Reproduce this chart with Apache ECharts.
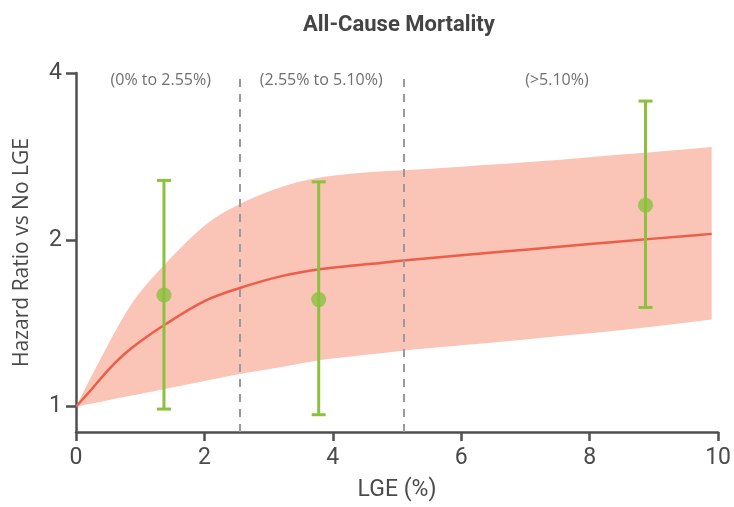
<!DOCTYPE html>
<html>
<head>
<meta charset="utf-8">
<script src="https://cdn.jsdelivr.net/npm/echarts@6/dist/echarts.min.js"></script>
<style>html,body{margin:0;padding:0;background:#fff}#c{width:734px;height:507px}</style>
</head>
<body>
<div id="c"></div>
<script>
// ---- data ----
const curveX   = [0, 0.25, 0.5, 0.75, 1.0, 1.4, 2.0, 2.55, 3.2, 3.8, 4.6, 5.1, 6.0, 7.0, 8.0, 9.0, 9.9];
const curveHR  = [1.0, 1.077, 1.164, 1.243, 1.311, 1.41, 1.55, 1.637, 1.72, 1.77, 1.81, 1.835, 1.875, 1.92, 1.965, 2.01, 2.05];
const upperHR  = [1.0, 1.14, 1.295, 1.459, 1.61, 1.815, 2.12, 2.32, 2.49, 2.59, 2.65, 2.67, 2.71, 2.76, 2.82, 2.88, 2.94];
const lowerHR  = [1.0, 1.013, 1.027, 1.041, 1.054, 1.077, 1.112, 1.145, 1.179, 1.213, 1.243, 1.262, 1.29, 1.322, 1.356, 1.395, 1.436];

const pointX   = [1.37, 3.78, 8.87];
const pointHR  = [1.59, 1.56, 2.31];
const ciLow    = [0.99, 0.967, 1.51];
const ciHigh   = [2.56, 2.545, 3.56];

const cutoffs      = [2.55, 5.10];
const groupLabels  = ['(0% to 2.55%)', '(2.55% to 5.10%)', '(>5.10%)'];
const groupLabelX  = [1.32, 3.82, 7.49];
const groupLabelY  = 3.88;

const xTicks = [0, 2, 4, 6, 8, 10];
const yTicks = [1, 2, 4];

const titleText = 'All-Cause Mortality';
const xName = 'LGE (%)';
const yName = 'Hazard Ratio vs No LGE';

// ---- chart ----
const AXIS = '#4f4f4f';
const TXT = '#4a4a4a';
const COND = '"Liberation Sans Narrow", "Roboto", sans-serif';
const REG = '"Open Sans", "Noto Sans", sans-serif';

const chart = echarts.init(document.getElementById('c'), null, {renderer: 'canvas'});

const bandData = curveX.map((x, i) => [x, lowerHR[i], upperHR[i]]);
const curveData = curveX.map((x, i) => [x, curveHR[i]]);

// Catmull-Rom -> cubic bezier path through pixel points (render smoothing only)
function smoothSegs(pts) {
  const n = pts.length;
  const get = i => {
    if (i < 0) return [2 * pts[0][0] - pts[1][0], 2 * pts[0][1] - pts[1][1]];
    if (i > n - 1) return [2 * pts[n - 1][0] - pts[n - 2][0], 2 * pts[n - 1][1] - pts[n - 2][1]];
    return pts[i];
  };
  const t = 1 / 6;
  let d = '';
  for (let i = 0; i < n - 1; i++) {
    const p0 = get(i - 1), p1 = pts[i], p2 = pts[i + 1], p3 = get(i + 2);
    const c1x = p1[0] + (p2[0] - p0[0]) * t, c1y = p1[1] + (p2[1] - p0[1]) * t;
    const c2x = p2[0] - (p3[0] - p1[0]) * t, c2y = p2[1] - (p3[1] - p1[1]) * t;
    d += ' C' + c1x + ' ' + c1y + ' ' + c2x + ' ' + c2y + ' ' + p2[0] + ' ' + p2[1];
  }
  return d;
}

const option = {
  animation: false,
  title: {
    text: titleText,
    left: 298, top: 9,
    textStyle: {fontFamily: COND, fontSize: 22, fontWeight: 'bold', color: '#444'}
  },
  grid: {left: 76, right: 14, top: 73, bottom: 72, containLabel: false},
  xAxis: {
    type: 'value', min: 0, max: 10, interval: 2,
    name: xName, nameLocation: 'middle', nameGap: 47,
    nameTextStyle: {fontFamily: COND, fontSize: 23, color: TXT},
    axisLine: {show: true, lineStyle: {color: AXIS, width: 2.5}},
    axisTick: {show: true, length: 9, lineStyle: {color: AXIS, width: 2.5}},
    axisLabel: {fontFamily: COND, fontSize: 23, color: TXT, margin: 15},
    splitLine: {show: false}
  },
  yAxis: {
    type: 'log', logBase: 2, min: 0.9, max: 4,
    name: yName, nameLocation: 'middle', nameRotate: 90, nameGap: 43,
    nameTextStyle: {fontFamily: REG, fontSize: 21, color: TXT},
    axisLine: {show: true, onZero: false, lineStyle: {color: AXIS, width: 2.5}},
    axisTick: {show: true, length: 10, customValues: yTicks, lineStyle: {color: AXIS, width: 2.5}},
    axisLabel: {fontFamily: COND, fontSize: 23, color: TXT, margin: 14, customValues: yTicks},
    splitLine: {show: false},
    minorTick: {show: false}
  },
  series: [
    {
      type: 'custom',
      name: 'band',
      data: bandData,
      z: 1,
      clip: true,
      renderItem: function (params, api) {
        if (params.dataIndex !== 0) return null;
        const up = bandData.map(d => api.coord([d[0], d[2]]));
        const lo = bandData.map(d => api.coord([d[0], d[1]])).reverse();
        const d = 'M' + up[0][0] + ' ' + up[0][1] + smoothSegs(up) +
                  ' L' + lo[0][0] + ' ' + lo[0][1] + smoothSegs(lo) + ' Z';
        return {type: 'path', shape: {pathData: d}, style: {fill: '#FAC4B6', stroke: null}};
      }
    },
    {
      type: 'custom',
      name: 'curve',
      data: curveData,
      z: 3,
      clip: true,
      renderItem: function (params, api) {
        if (params.dataIndex !== 0) return null;
        const pts = curveData.map(d => api.coord(d));
        const d = 'M' + pts[0][0] + ' ' + pts[0][1] + smoothSegs(pts);
        return {type: 'path', shape: {pathData: d}, style: {fill: null, stroke: '#EE5D47', lineWidth: 2.5}};
      }
    },
    {
      type: 'line',
      name: 'cutoffs',
      data: [],
      z: 2,
      markLine: {
        silent: true,
        symbol: ['none', 'none'],
        label: {show: false},
        lineStyle: {color: '#9a9a9a', width: 2, type: [8, 7]},
        data: cutoffs.map(v => ({xAxis: v}))
      }
    },
    {
      type: 'custom',
      name: 'ci',
      z: 5,
      data: pointX.map((x, i) => [x, ciLow[i], ciHigh[i]]),
      renderItem: function (params, api) {
        const x = api.value(0);
        const lo = api.coord([x, api.value(1)]);
        const hi = api.coord([x, api.value(2)]);
        const hw = 7;
        const st = {stroke: '#8CC03F', lineWidth: 3, fill: null};
        return {
          type: 'group',
          children: [
            {type: 'line', shape: {x1: lo[0], y1: lo[1], x2: hi[0], y2: hi[1]}, style: st},
            {type: 'line', shape: {x1: lo[0] - hw, y1: lo[1], x2: lo[0] + hw, y2: lo[1]}, style: st},
            {type: 'line', shape: {x1: hi[0] - hw, y1: hi[1], x2: hi[0] + hw, y2: hi[1]}, style: st}
          ]
        };
      }
    },
    {
      type: 'scatter',
      name: 'points',
      z: 6,
      symbol: 'circle',
      symbolSize: 15,
      itemStyle: {color: '#8CC03F'},
      data: pointX.map((x, i) => [x, pointHR[i]])
    },
    {
      type: 'scatter',
      name: 'groups',
      z: 7,
      symbolSize: 0,
      silent: true,
      data: groupLabelX.map((x, i) => ({value: [x, groupLabelY], name: groupLabels[i]})),
      label: {
        show: true, position: 'inside', formatter: p => p.name,
        fontFamily: REG, fontSize: 16, color: '#4a4a4a'
      }
    }
  ]
};
chart.setOption(option);
</script>
</body>
</html>
